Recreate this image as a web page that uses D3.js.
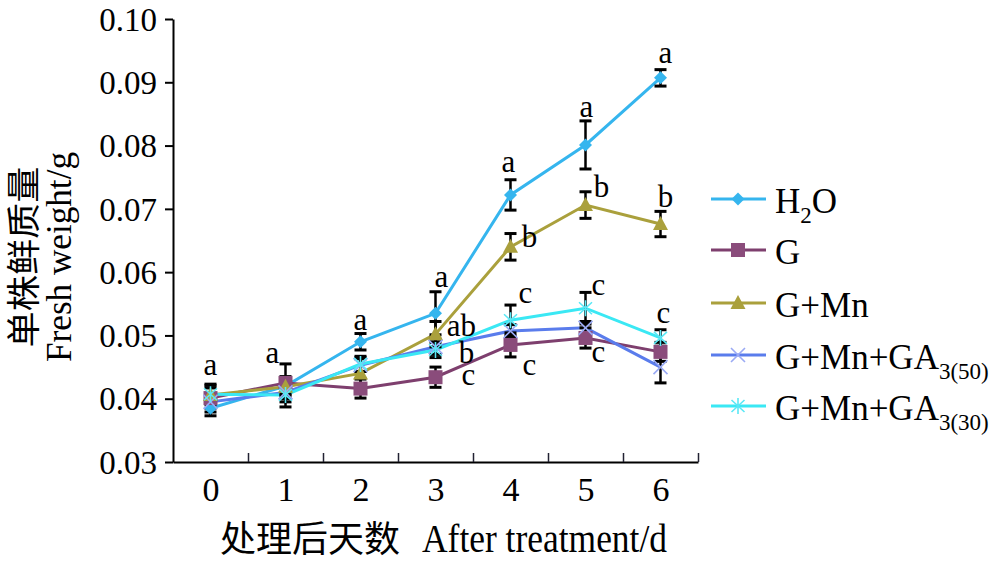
<!DOCTYPE html>
<html><head><meta charset="utf-8">
<script src="https://cdn.jsdelivr.net/npm/d3@7/dist/d3.min.js"></script>
<style>body{margin:0;background:#fff}svg{display:block}</style>
</head><body><svg id="c" width="1000" height="569"></svg>
<script>
// ---------------- data ----------------
const days = [0, 1, 2, 3, 4, 5, 6];
const yTickValues = [0.03, 0.04, 0.05, 0.06, 0.07, 0.08, 0.09, 0.10];
const seriesKeys = ["H2O", "G", "GMn", "GA50", "GA30"];
const h2o     = [0.0385, 0.0420, 0.0490, 0.0535, 0.0722, 0.0801, 0.0907];
const h2oErr  = [0.0012, 0.0015, 0.0013, 0.0034, 0.0024, 0.0038, 0.0013];
const g       = [0.0401, 0.0425, 0.0416, 0.0434, 0.0485, 0.0496, 0.0474];
const gErr    = [0.0022, 0.0030, 0.0015, 0.0016, 0.0019, 0.0016, 0.0015];
const gmn     = [0.0406, 0.0419, 0.0440, 0.0502, 0.0640, 0.0706, 0.0676];
const gmnErr  = [0.0015, 0.0012, 0.0025, 0.0020, 0.0021, 0.0021, 0.0020];
const ga50    = [0.0395, 0.0410, 0.0453, 0.0482, 0.0507, 0.0512, 0.0450];
const ga50Err = [0.0010, 0.0010, 0.0010, 0.0012, 0.0010, 0.0010, 0.0025];
const ga30    = [0.0407, 0.0406, 0.0455, 0.0477, 0.0524, 0.0543, 0.0496];
const ga30Err = [0.0010, 0.0019, 0.0012, 0.0012, 0.0024, 0.0025, 0.0013];
// significance letters per day, and the value level at which each sits
const sigLetters = [["a"], ["a"], ["a"], ["a","ab","b","c"], ["a","b","c","c"], ["a","b","c","c"], ["a","b","c"]];
const sigLevel   = [[0.04375], [0.04564], [0.05086], [0.05765,0.04990,0.0457,0.04217],
                    [0.07582,0.06397,0.05512,0.04375], [0.08451,0.07187,0.05639,0.0458],
                    [0.09304,0.07029,0.05196]];

// ---------------- layout / style ----------------
const sigDx = [[0], [-13], [0], [6,26,31,33], [-2,19,15,19], [1,16,13,13], [5,5,3]];
const serif = "'Liberation Serif','Times New Roman',serif";
const cjk = "'Noto Sans CJK SC','Noto Sans CJK JP',sans-serif";
const styles = {
  H2O:  {line: "#35b5ee", mark: "#35b5ee", shape: "diamond"},
  G:    {line: "#7e3f6e", mark: "#8a4c7b", shape: "square"},
  GMn:  {line: "#aaa03c", mark: "#aaa03c", shape: "triangle"},
  GA50: {line: "#5a7cec", mark: "#9aaaf4", shape: "x"},
  GA30: {line: "#3ae8f4", mark: "#5ae8f6", shape: "star"}
};
const values = {H2O: h2o, G: g, GMn: gmn, GA50: ga50, GA30: ga30};
const errors = {H2O: h2oErr, G: gErr, GMn: gmnErr, GA50: ga50Err, GA30: ga30Err};

const svg = d3.select("#c");
const x = d3.scaleLinear().domain([-0.5, 6.5]).range([173, 698]);
const y = d3.scaleLinear().domain([0.03, 0.10]).range([462, 19]);

// axes
const yAxis = svg.append("g").attr("transform", "translate(173,0)")
  .call(d3.axisLeft(y).tickValues(yTickValues).tickFormat(d3.format(".2f")).tickSize(8).tickPadding(8).tickSizeOuter(0));
yAxis.select(".domain").attr("stroke", "#000").attr("stroke-width", 2);
yAxis.selectAll(".tick line").attr("stroke", "#000").attr("stroke-width", 2);
yAxis.selectAll(".tick text").attr("font-family", serif).attr("font-size", 33).attr("fill", "#000").attr("dy", "0.34em");

const boundaries = days.map(d => d + 0.5);
const xAxis = svg.append("g").attr("transform", "translate(0,462)")
  .call(d3.axisBottom(x).tickValues(boundaries).tickFormat("").tickSize(-9).tickSizeOuter(0));
xAxis.select(".domain").attr("stroke", "#000").attr("stroke-width", 2);
xAxis.selectAll(".tick line").attr("stroke", "#223").attr("stroke-width", 1.5);

const xLab = svg.append("g").attr("transform", "translate(0,462)")
  .call(d3.axisBottom(x).tickValues(days).tickFormat(d3.format("d")).tickSize(0).tickPadding(0));
xLab.select(".domain").remove();
xLab.selectAll(".tick text").attr("font-family", serif).attr("font-size", 34).attr("fill", "#000")
  .attr("dy", null).attr("y", 39);

// axis titles
const xt = svg.append("text").attr("y", 552).attr("fill", "#000");
xt.append("tspan").attr("x", 220).attr("font-family", cjk).attr("font-size", 36)
  .attr("textLength", 180).attr("lengthAdjust", "spacingAndGlyphs").text("处理后天数");
xt.append("tspan").attr("x", 422).attr("font-family", serif).attr("font-size", 41)
  .attr("textLength", 245).attr("lengthAdjust", "spacingAndGlyphs").text("After treatment/d");

svg.append("text").attr("transform", "translate(36,257) rotate(-90)").attr("text-anchor", "middle")
  .attr("font-family", cjk).attr("font-size", 34).attr("fill", "#000")
  .attr("textLength", 181).attr("lengthAdjust", "spacingAndGlyphs").text("单株鲜质量");
svg.append("text").attr("transform", "translate(71,257) rotate(-90)").attr("text-anchor", "middle")
  .attr("font-family", serif).attr("font-size", 36).attr("fill", "#000")
  .attr("textLength", 210).attr("lengthAdjust", "spacingAndGlyphs").text("Fresh weight/g");

// marker drawer
function marker(sel, shape, color) {
  if (shape === "diamond") sel.append("path").attr("d", "M0,-6.5L6.5,0L0,6.5L-6.5,0Z").attr("fill", color);
  else if (shape === "square") sel.append("rect").attr("x", -7).attr("y", -7).attr("width", 14).attr("height", 14).attr("fill", color);
  else if (shape === "triangle") sel.append("path").attr("d", "M0,-8L7.5,6L-7.5,6Z").attr("fill", color);
  else if (shape === "x") sel.append("path").attr("d", "M-7,-7L7,7M-7,7L7,-7").attr("stroke", color).attr("stroke-width", 1.6).attr("fill", "none");
  else if (shape === "star") sel.append("path").attr("d", "M0,-8L0,8M-6.5,-6L6.5,6M-6.5,6L6.5,-6").attr("stroke", color).attr("stroke-width", 1.6).attr("fill", "none");
}

const line = d3.line().x((d, i) => x(days[i])).y(d => y(d));

// lines
seriesKeys.forEach(k => {
  svg.append("path").datum(values[k]).attr("d", line).attr("fill", "none")
    .attr("stroke", styles[k].line).attr("stroke-width", 3);
});
// error bars
seriesKeys.forEach(k => {
  const eg = svg.append("g");
  values[k].forEach((v, i) => {
    const e = errors[k][i], cx = x(days[i]);
    eg.append("line").attr("x1", cx).attr("x2", cx).attr("y1", y(v - e)).attr("y2", y(v + e))
      .attr("stroke", "#000").attr("stroke-width", 2.5);
    [v - e, v + e].forEach(w => eg.append("line").attr("x1", cx - 6).attr("x2", cx + 6)
      .attr("y1", y(w)).attr("y2", y(w)).attr("stroke", "#000").attr("stroke-width", 3));
  });
});
// markers
seriesKeys.forEach(k => {
  values[k].forEach((v, i) => {
    const m = svg.append("g").attr("transform", `translate(${x(days[i])},${y(v)})`);
    marker(m, styles[k].shape, styles[k].mark);
  });
});

// significance letters
sigLetters.forEach((arr, i) => {
  arr.forEach((t, j) => {
    svg.append("text").attr("x", x(days[i]) + sigDx[i][j]).attr("y", y(sigLevel[i][j]))
      .attr("text-anchor", "middle").attr("font-family", serif).attr("font-size", 31).attr("fill", "#000").text(t);
  });
});

// legend
const legRows = [
  {k: "H2O",  parts: [["H", 0], ["2", 1], ["O", 0]]},
  {k: "G",    parts: [["G", 0]]},
  {k: "GMn",  parts: [["G+Mn", 0]]},
  {k: "GA50", parts: [["G+Mn+GA", 0], ["3(50)", 1]]},
  {k: "GA30", parts: [["G+Mn+GA", 0], ["3(30)", 1]]}
];
const legY = [199, 250, 303, 355, 406];
legRows.forEach((r, i) => {
  const ly = legY[i];
  svg.append("line").attr("x1", 711).attr("x2", 766).attr("y1", ly).attr("y2", ly)
    .attr("stroke", styles[r.k].line).attr("stroke-width", 3);
  const m = svg.append("g").attr("transform", `translate(738,${ly})`);
  marker(m, styles[r.k].shape, styles[r.k].mark);
  const t = svg.append("text").attr("x", 775).attr("y", ly + 14).attr("font-family", serif).attr("fill", "#000");
  let cur = 0;
  r.parts.forEach(([s, sub]) => {
    const shift = sub ? 10 : 0;
    t.append("tspan").attr("font-size", sub ? 23 : 35).attr("dy", shift - cur).text(s);
    cur = shift;
  });
});
</script></body></html>
